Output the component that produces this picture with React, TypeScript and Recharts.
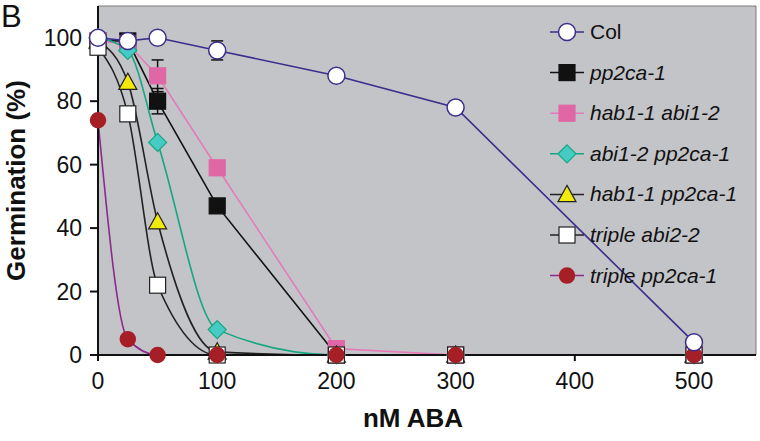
import React from 'react';
import {
    LineChart, Line, XAxis, YAxis, CartesianGrid,
    ReferenceArea, ErrorBar, Legend,
} from 'recharts';

// ABA dose (nM) on x, germination (%) on y
const doses = [0, 25, 50, 100, 200, 300, 500];

const colVals = [100, 99, 100, 96, 88, 78, 4];
const pp2caVals = [99, 99, 80, 47, 0, 0, 0];
const hab1Abi1Vals = [99, 98, 88, 59, 2, 0, 0];
const abi1Pp2caVals = [100, 96, 67, 8, 0, 0, 0];
const hab1Pp2caVals = [99, 86, 42, 1, 0, 0, 0];
const tripleAbi2Vals = [97, 76, 22, 0, 0, 0, 0];
const triplePp2caVals = [74, 5, 0, 0, 0, 0, 0];

const colErr = [0, 0, 1, 3, 1, 2, 1];
const pp2caErr = [0, 1, 4, 2, 0, 0, 0];
const hab1Abi1Err = [0, 1, 5, 2, 0, 0, 0];

const xTicks = [0, 100, 200, 300, 400, 500];
const yTicks = [0, 20, 40, 60, 80, 100];

const FONT = '"Liberation Sans", Arial, sans-serif';

type Shape = 'circle' | 'square' | 'diamond' | 'triangle';

type Series = {
    key: string;
    name: string;
    italic: boolean;
    line: string;
    fill: string;
    stroke: string;
    shape: Shape;
    size: number;
    curve: 'linear' | 'monotone';
    err?: string;
};

const series: Series[] = [
    { key: 'pp2ca', name: 'pp2ca-1', italic: true, line: '#111', fill: '#111', stroke: '#111', shape: 'square', size: 8, curve: 'linear', err: 'pp2caErr' },
    { key: 'hab1Abi1', name: 'hab1-1 abi1-2', italic: true, line: '#e47bb7', fill: '#e067a6', stroke: '#e067a6', shape: 'square', size: 8, curve: 'linear', err: 'hab1Abi1Err' },
    { key: 'abi1Pp2ca', name: 'abi1-2 pp2ca-1', italic: true, line: '#16a682', fill: '#45cbc3', stroke: '#16a682', shape: 'diamond', size: 9, curve: 'monotone' },
    { key: 'hab1Pp2ca', name: 'hab1-1 pp2ca-1', italic: true, line: '#222', fill: '#f2ea0c', stroke: '#222', shape: 'triangle', size: 9, curve: 'monotone' },
    { key: 'tripleAbi2', name: 'triple abi2-2', italic: true, line: '#222', fill: '#fff', stroke: '#222', shape: 'square', size: 8, curve: 'monotone' },
    { key: 'triplePp2ca', name: 'triple pp2ca-1', italic: true, line: '#8a2a8c', fill: '#a61f26', stroke: '#a61f26', shape: 'circle', size: 7.5, curve: 'monotone' },
    { key: 'col', name: 'Col', italic: false, line: '#3b2d8c', fill: '#fff', stroke: '#3b2d8c', shape: 'circle', size: 8.5, curve: 'linear', err: 'colErr' },
];

const legendOrder = ['col', 'pp2ca', 'hab1Abi1', 'abi1Pp2ca', 'hab1Pp2ca', 'tripleAbi2', 'triplePp2ca'];

const data = doses.map((d, i) => ({
    dose: d,
    col: colVals[i],
    pp2ca: pp2caVals[i],
    hab1Abi1: hab1Abi1Vals[i],
    abi1Pp2ca: abi1Pp2caVals[i],
    hab1Pp2ca: hab1Pp2caVals[i],
    tripleAbi2: tripleAbi2Vals[i],
    triplePp2ca: triplePp2caVals[i],
    colErr: colErr[i],
    pp2caErr: pp2caErr[i],
    hab1Abi1Err: hab1Abi1Err[i],
}));

const Marker = ({ s, cx, cy }: { s: Series; cx: number; cy: number }) => {
    const r = s.size;
    if (s.shape === 'circle') {
        return <circle cx={cx} cy={cy} r={r} fill={s.fill} stroke={s.stroke} strokeWidth={1.5} />;
    }
    if (s.shape === 'square') {
        return <rect x={cx - r} y={cy - r} width={r * 2} height={r * 2} fill={s.fill} stroke={s.stroke} strokeWidth={1.2} />;
    }
    if (s.shape === 'diamond') {
        const p = `${cx},${cy - r} ${cx + r},${cy} ${cx},${cy + r} ${cx - r},${cy}`;
        return <polygon points={p} fill={s.fill} stroke={s.stroke} strokeWidth={1.2} />;
    }
    const p = `${cx},${cy - r} ${cx + r},${cy + r * 0.8} ${cx - r},${cy + r * 0.8}`;
    return <polygon points={p} fill={s.fill} stroke={s.stroke} strokeWidth={1.2} />;
};

const renderLegend = () => (
    <svg width={210} height={290} style={{ display: 'block' }}>
        {legendOrder.map((k, i) => {
            const s = series.find((x) => x.key === k)!;
            const y = 18 + i * 40.6;
            return (
                <g key={k}>
                    <line x1={2} x2={36} y1={y} y2={y} stroke={s.line} strokeWidth={1.5} />
                    <Marker s={s} cx={19} cy={y} />
                    <text
                        x={42}
                        y={y + 7}
                        fontFamily={FONT}
                        fontSize={21}
                        fontStyle={s.italic ? 'italic' : 'normal'}
                        fill="#111"
                    >
                        {s.name}
                    </text>
                </g>
            );
        })}
    </svg>
);

const App: React.FC = () => {
    return (
        <div style={{ position: 'absolute', left: 0, top: 0, width: 760, height: 441, background: '#fff', fontFamily: FONT }}>
            <div style={{ position: 'absolute', left: 1, top: 1, fontSize: 31, lineHeight: '31px', fontFamily: FONT, color: '#111' }}>B</div>
            <LineChart width={760} height={441} data={data} margin={{ top: 6, right: 4, left: 0, bottom: 0 }}>
                <CartesianGrid fill="#c3c4c8" horizontal={false} vertical={false} />
                <ReferenceArea x1={0} x2={552} y1={0} y2={110} fill="none" stroke="#7a7a7a" strokeWidth={1} ifOverflow="visible" />
                <XAxis
                    dataKey="dose"
                    type="number"
                    domain={[0, 552]}
                    ticks={xTicks}
                    height={86}
                    tickSize={6}
                    tickMargin={12}
                    tick={{ fontSize: 23, fill: '#111', fontFamily: FONT }}
                    axisLine={{ stroke: '#111', strokeWidth: 2 }}
                    tickLine={{ stroke: '#111', strokeWidth: 2 }}
                    label={{ value: 'nM ABA', position: 'insideBottom', offset: 14, dx: -14, style: { fontSize: 26, fontWeight: 700, fill: '#111', fontFamily: FONT } }}
                />
                <YAxis
                    type="number"
                    domain={[0, 110]}
                    ticks={yTicks}
                    width={98}
                    tickSize={8}
                    tickMargin={8}
                    tick={{ fontSize: 23, fill: '#111', fontFamily: FONT }}
                    axisLine={{ stroke: '#111', strokeWidth: 2 }}
                    tickLine={{ stroke: '#111', strokeWidth: 2 }}
                    label={{ value: 'Germination (%)', angle: -90, position: 'insideLeft', offset: 16, style: { textAnchor: 'middle', fontSize: 26, fontWeight: 700, fill: '#111', fontFamily: FONT } }}
                />
                {series.map((s) => (
                    <Line
                        key={s.key}
                        dataKey={s.key}
                        name={s.name}
                        type={s.curve}
                        stroke={s.line}
                        strokeWidth={1.6}
                        isAnimationActive={false}
                        dot={(p: any) => (
                            <Marker key={`${s.key}-${p.index}`} s={s} cx={p.cx} cy={p.cy} />
                        )}
                        activeDot={false}
                    >
                        {s.err && (
                            <ErrorBar dataKey={s.err} direction="y" width={6} stroke="#111" strokeWidth={1.5} />
                        )}
                    </Line>
                ))}
                <Legend
                    layout="horizontal"
                    verticalAlign="middle"
                    align="center"
                    content={renderLegend}
                    wrapperStyle={{ left: 548, top: 14, width: 210, height: 290 }}
                />
            </LineChart>
        </div>
    );
};

export default App;
